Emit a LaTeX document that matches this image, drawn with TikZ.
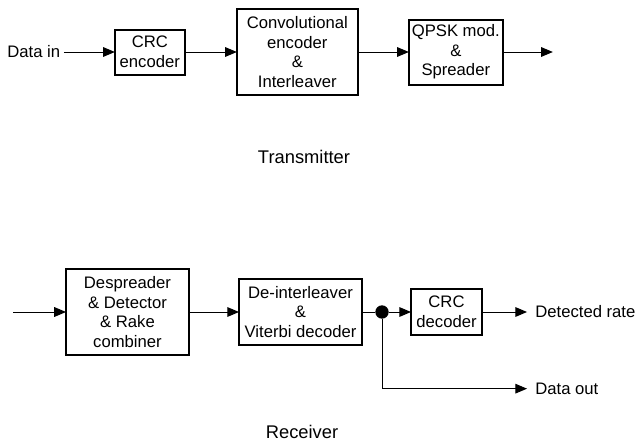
\documentclass[tikz,border=0pt]{standalone}
\usepackage{fontspec}
\setmainfont{Liberation Sans}
\usetikzlibrary{shapes.geometric, arrows}
\usetikzlibrary{positioning}
\tikzstyle{block} = [rectangle, draw=black, line width=1.2pt, align=center, inner sep=1pt, outer sep=0pt]
\tikzstyle{lbl} = [inner sep=2pt, align=center]
\tikzstyle{title} = [font=\fontsize{11}{13}\selectfont]
\tikzstyle{arrow} = [line width=0.6pt,->,>=triangle 45]

\begin{document}
\begin{tikzpicture}[node distance=30pt, font=\fontsize{10}{11.8}\selectfont]
  \useasboundingbox (0,0) rectangle (382.8pt,-267.6pt);

  \node (datain) [lbl, anchor=west] at (2.2pt,-31.2pt) {Data in};
  \node (crcenc) [block, right=30.6pt of datain, minimum width=42pt, minimum height=27pt] {CRC\\encoder};
  \node (conv) [block, right=31.2pt of crcenc, minimum width=72.6pt, minimum height=51.6pt] {Convolutional\\encoder\\\&\\Interleaver};
  \node (qpsk) [block, right=30.6pt of conv, minimum width=56.4pt, minimum height=39pt] {QPSK mod.\\\&\\Spreader};
  \coordinate [right=30pt of qpsk] (txout);
  \node (tx) [lbl, title] at (182.4pt,-94.2pt) {Transmitter};

  \coordinate (rxin) at (7.8pt,-187.2pt);
  \node (desp) [block, right=31.8pt of rxin, minimum width=73.8pt, minimum height=51.6pt] {Despreader\\\& Detector\\\& Rake\\combiner};
  \node (deint) [block, right=30pt of desp, minimum width=73.8pt, minimum height=39.6pt] {De-interleaver\\\&\\Viterbi decoder};
  \node (dot) [circle, fill=black, inner sep=0pt, outer sep=0pt, minimum size=8pt, right=8pt of deint] {};
  \node (crcdec) [block, right=13.4pt of dot, minimum width=42.6pt, minimum height=27.6pt] {CRC\\decoder};
  \node (detrate) [lbl, inner xsep=4.8pt, right=27pt of crcdec] {Detected rate};
  \node (dataout) [lbl, inner xsep=4.8pt, below=46pt of detrate.west, anchor=west] {Data out};
  \node (rx) [lbl, title] at (181.2pt,-259.2pt) {Receiver};

  \draw [arrow] (datain) -- (crcenc);
  \draw [arrow] (crcenc) -- (conv);
  \draw [arrow] (conv) -- (qpsk);
  \draw [arrow] (qpsk) -- (txout);

  \draw [arrow] (rxin) -- (desp);
  \draw [arrow] (desp) -- (deint);
  \draw [line width=0.6pt] (deint) -- (dot);
  \draw [arrow] (dot) -- (crcdec);
  \draw [arrow] (crcdec) -- (detrate);
  \draw [arrow] (dot) |- (dataout);
\end{tikzpicture}
\end{document}
